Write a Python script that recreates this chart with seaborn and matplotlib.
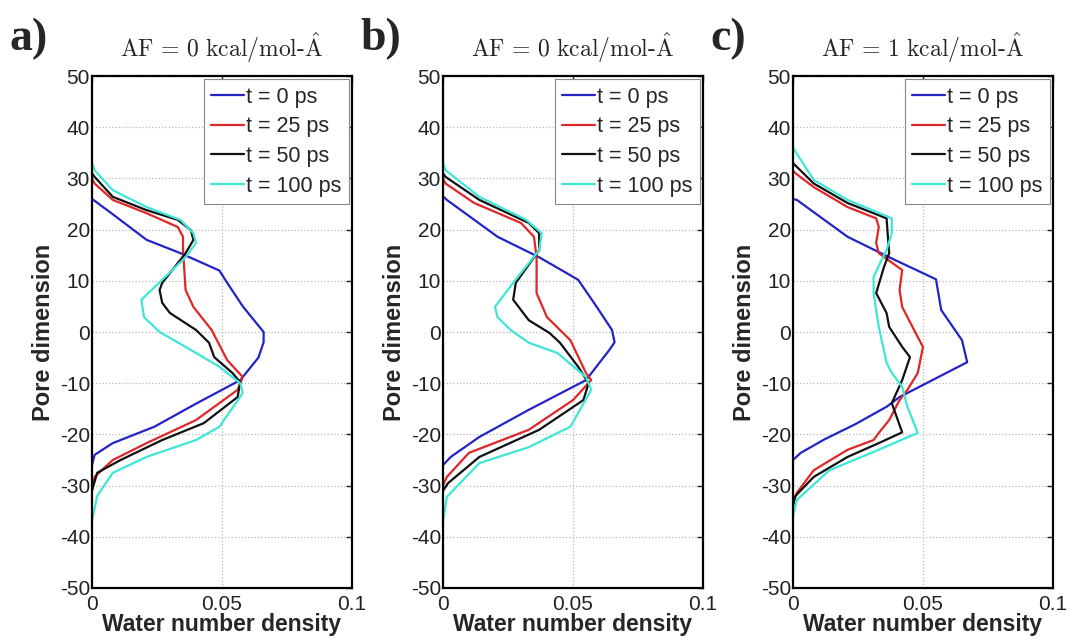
import matplotlib
matplotlib.use("Agg")
from matplotlib import pyplot as plt
import seaborn as sns
import pandas as pd

# pore position (y) and water density (x) for each curve
times = ["t = 0 ps", "t = 25 ps", "t = 50 ps", "t = 100 ps"]
colors = ["#2323c8", "#e02626", "#111111", "#3ee6d6"]
titles = [r"$\mathrm{AF}\,=\,0\ \mathrm{kcal/mol}$-$\hat{\mathrm{A}}$",
          r"$\mathrm{AF}\,=\,0\ \mathrm{kcal/mol}$-$\hat{\mathrm{A}}$",
          r"$\mathrm{AF}\,=\,1\ \mathrm{kcal/mol}$-$\hat{\mathrm{A}}$"]
panel_tags = ["a)", "b)", "c)"]

# panel a
a_y0 = [26, 23, 18, 15.4, 12, 9.6, 5, 0, -2, -5, -9.4, -14, -18.5, -21.7, -24, -26]
a_x0 = [0, 0.008, 0.021, 0.034, 0.049, 0.052, 0.058, 0.066, 0.066, 0.064, 0.057, 0.040, 0.024, 0.008, 0.001, 0]
a_y25 = [30, 29, 25.8, 23.2, 20.5, 18.6, 16, 8.2, 4.9, 0.4, -5.5, -8.8, -11.3, -17.2, -21.7, -25, -28.3, -30.5]
a_x25 = [0, 0.001, 0.008, 0.021, 0.033, 0.035, 0.035, 0.036, 0.039, 0.046, 0.052, 0.058, 0.056, 0.040, 0.021, 0.008, 0.001, 0]
a_y50 = [31, 30.3, 26.4, 23.8, 21.9, 19.9, 18, 15.4, 9.6, 8.2, 5.7, 3.7, 0.4, -2.1, -4.9, -8, -9.8, -12.7, -17.8, -21.1, -25, -27.5, -31]
a_x50 = [0, 0.001, 0.008, 0.021, 0.033, 0.038, 0.039, 0.036, 0.027, 0.026, 0.027, 0.030, 0.040, 0.045, 0.047, 0.054, 0.057, 0.056, 0.043, 0.027, 0.011, 0.002, 0]
a_y100 = [33, 31.6, 27.7, 24.4, 21.9, 19.3, 17.4, 14.6, 10.2, 6.3, 2.9, 0, -3.5, -6.8, -10, -11.9, -18.5, -21.1, -24.4, -27.5, -32, -37]
a_x100 = [0, 0.001, 0.008, 0.021, 0.034, 0.039, 0.040, 0.036, 0.027, 0.019, 0.020, 0.026, 0.038, 0.049, 0.057, 0.058, 0.049, 0.040, 0.021, 0.008, 0.002, 0]

# panel b
b_y0 = [26.5, 25.8, 18.6, 14.6, 10.2, 5, 0.4, -2, -3.5, -9.4, -15.2, -20.5, -24.4, -26]
b_x0 = [0, 0.0015, 0.021, 0.037, 0.052, 0.059, 0.065, 0.066, 0.064, 0.055, 0.033, 0.014, 0.003, 0]
b_y25 = [30, 29, 25.2, 21.3, 18.6, 14.6, 7.6, 2.9, -1.6, -8, -9.4, -13.3, -19.1, -23.6, -28.3, -30]
b_x25 = [0, 0.001, 0.012, 0.030, 0.035, 0.036, 0.036, 0.040, 0.049, 0.055, 0.057, 0.050, 0.033, 0.010, 0.0015, 0]
b_y50 = [31, 30.3, 25.8, 21.3, 19.3, 16, 9.6, 6.3, 2.3, -0.2, -2.1, -6.8, -10, -13.3, -19.1, -24.4, -29.5, -31]
b_x50 = [0, 0.001, 0.014, 0.033, 0.037, 0.037, 0.028, 0.027, 0.033, 0.041, 0.045, 0.052, 0.056, 0.054, 0.037, 0.014, 0.002, 0]
b_y100 = [33, 31.6, 26.4, 21.9, 19.3, 16, 9.6, 4.9, 2.9, 0.4, -2.1, -4.1, -8.8, -11.3, -18.5, -22.5, -25.6, -32.2, -37]
b_x100 = [0, 0.001, 0.014, 0.032, 0.038, 0.037, 0.027, 0.020, 0.021, 0.026, 0.033, 0.044, 0.055, 0.057, 0.049, 0.033, 0.014, 0.0015, 0]

# panel c
c_y0 = [26, 25.8, 18.6, 14.6, 10.3, 4.3, -1.6, -5.9, -12.7, -14.6, -18, -21, -23.6, -25]
c_x0 = [0, 0.0015, 0.021, 0.037, 0.055, 0.057, 0.065, 0.067, 0.041, 0.036, 0.024, 0.012, 0.003, 0]
c_y25 = [31.5, 31, 28.3, 24.4, 22.2, 20.5, 17.4, 15.4, 12.1, 8.2, 4.9, -1, -2.9, -8, -11.3, -13.3, -17.2, -19.7, -21.1, -23, -27, -31.4, -33]
c_x25 = [0, 0.001, 0.008, 0.021, 0.032, 0.033, 0.032, 0.033, 0.042, 0.041, 0.042, 0.048, 0.050, 0.048, 0.044, 0.041, 0.037, 0.033, 0.031, 0.021, 0.008, 0.0015, 0]
c_y50 = [33, 29, 25.2, 22.2, 18.6, 15.4, 12.7, 7.6, 3.7, 1, -2.9, -4.9, -9.4, -13.9, -19.6, -21.7, -24.4, -28.3, -32, -34]
c_x50 = [0, 0.008, 0.021, 0.036, 0.0365, 0.037, 0.035, 0.032, 0.036, 0.037, 0.042, 0.045, 0.042, 0.038, 0.042, 0.033, 0.021, 0.008, 0.001, 0]
c_y100 = [36, 29.7, 25.8, 22.2, 19.3, 16, 14, 10.7, 7.6, 1, -6, -8, -10.7, -14.6, -19.7, -23, -27, -32.8, -36]
c_x100 = [0, 0.008, 0.021, 0.038, 0.038, 0.036, 0.034, 0.031, 0.031, 0.033, 0.036, 0.038, 0.042, 0.044, 0.048, 0.033, 0.014, 0.0015, 0]

panels = [
    [(a_x0, a_y0), (a_x25, a_y25), (a_x50, a_y50), (a_x100, a_y100)],
    [(b_x0, b_y0), (b_x25, b_y25), (b_x50, b_y50), (b_x100, b_y100)],
    [(c_x0, c_y0), (c_x25, c_y25), (c_x50, c_y50), (c_x100, c_y100)],
]

xticks = [0, 0.05, 0.1]
xticklabels = ["0", "0.05", "0.1"]
yticks = list(range(-50, 51, 10))

sns.set_style("whitegrid")
plt.rcParams["font.family"] = ["Liberation Sans", "DejaVu Sans"]
plt.rcParams["mathtext.fontset"] = "cm"
plt.rcParams["axes.unicode_minus"] = False

fig = plt.figure(figsize=(10.71, 6.41), dpi=100)
lefts = [0.0859, 0.4136, 0.7404]

for k in range(3):
    ax = fig.add_axes([lefts[k], 0.0827, 0.2428, 0.7987])
    rows = []
    for t, (xs, ys) in zip(times, panels[k]):
        for xv, yv in zip(xs, ys):
            rows.append({"density": xv, "pore": yv, "time": t})
    df = pd.DataFrame(rows)
    sns.lineplot(data=df, x="density", y="pore", hue="time", hue_order=times,
                 palette=colors, orient="y", sort=False, estimator=None,
                 linewidth=1.6, ax=ax)

    ax.set_xlim(0, 0.1)
    ax.set_ylim(-50, 50)
    ax.set_xticks(xticks)
    ax.set_xticklabels(xticklabels)
    ax.set_yticks(yticks)
    ax.grid(True, linestyle=":", color="#b8b8b8", linewidth=0.9)
    for s in ax.spines.values():
        s.set_color("black")
        s.set_linewidth(1.6)
    ax.tick_params(direction="in", length=4, width=1, colors="#222222",
                   labelsize=15, top=True, right=True, pad=1.5)
    ax.tick_params(axis="x", pad=5)
    ax.set_xlabel("Water number density", fontsize=16.5, fontweight="bold", labelpad=-1)
    ax.set_ylabel("Pore dimension", fontsize=17, fontweight="bold", labelpad=3)
    ax.set_title(titles[k], fontsize=17, pad=14, family="cmr10")

    h, l = ax.get_legend_handles_labels()
    leg = ax.legend(h, l, loc="upper right", fontsize=15.5, frameon=True,
                    fancybox=False, framealpha=1, edgecolor="#888888",
                    handlelength=1.5, handletextpad=0.1, labelspacing=0.4,
                    borderpad=0.35, borderaxespad=0.15)
    leg.get_frame().set_linewidth(0.8)

    fig.text(lefts[k] - 0.077, 0.94, panel_tags[k], fontsize=33,
             fontweight="bold", family="Liberation Serif", va="center", ha="left")

fig.savefig("out.png", dpi=100)
